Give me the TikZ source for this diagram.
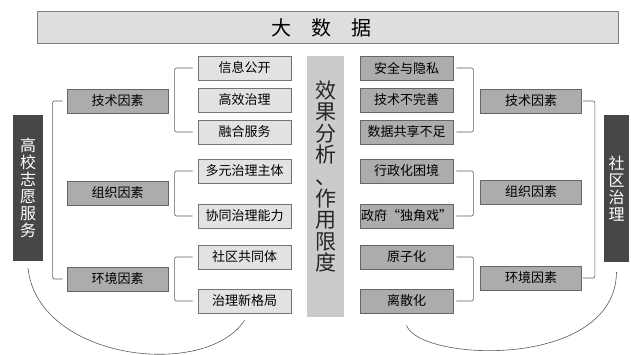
\documentclass[tikz,border=0pt]{standalone}
\usepackage{fontspec}
\setmainfont{Noto Sans CJK SC}
\usetikzlibrary{positioning}

\definecolor{lightbox}{HTML}{E2E2E2}
\definecolor{midbox}{HTML}{ACACAC}
\definecolor{darkbox}{HTML}{474747}
\definecolor{centrebox}{HTML}{CBCBCB}
\definecolor{linegrey}{HTML}{5A5A5A}
\newcommand\tightlines{\lineskiplimit=-100pt\relax}

\begin{document}
\begin{tikzpicture}[x=1pt,y=-1pt,
    small/.style={shape=rectangle,draw=black!55,fill=lightbox,line width=0.8pt,minimum width=93pt,minimum height=24pt,inner sep=0pt,font=\fontsize{13}{15}\selectfont},
    smalldark/.style={small,fill=midbox,draw=black!60},
    factor/.style={smalldark,minimum width=101pt},
    side/.style={shape=rectangle,fill=darkbox,text=white,inner sep=0pt,align=center,font=\fontsize{16}{17}\selectfont\tightlines},
    brace/.style={draw=linegrey,line width=0.6pt,rounded corners=2pt}]

   \useasboundingbox (0,0) rectangle (631,355);

   \node[shape=rectangle,draw=black!50,fill=black!13,line width=1pt,minimum width=581pt,minimum height=32pt] (top) at (327.5,28) {};
   \node[font=\fontsize{20}{22}\selectfont] (toptext) at ([xshift=-6pt]top.center) {大\quad 数\quad 据};

   \node[shape=rectangle,fill=centrebox,minimum width=37pt,minimum height=261pt,inner sep=0pt] (mid) at (325.5,186.5) {};
   \node[align=center,font=\fontsize{21}{21.6}\selectfont\tightlines,text=black!85] (midtext) at ([yshift=10pt]mid.center) {效\\果\\分\\析\\、\\作\\用\\限\\度};

   \node[side,minimum width=30pt,minimum height=146pt] (left) at (28,188) {高\\校\\志\\愿\\服\\务};
   \node[side,minimum width=25pt,minimum height=147pt] (right) at (616.5,188.5) {社\\区\\治\\理};

   \node[factor] (lm1) at (117.5,101) {技术因素};
   \node[factor] (lm2) at (117.5,193) {组织因素};
   \node[factor] (lm3) at (117.5,279) {环境因素};

   \node[small] (l1) at (244.5,68) {信息公开};
   \node[small] (l2) at (244.5,100) {高效治理};
   \node[small] (l3) at (244.5,132) {融合服务};
   \node[small] (l4) at (244.5,171) {多元治理主体};
   \node[small] (l5) at (244.5,216) {协同治理能力};
   \node[small] (l6) at (244.5,257) {社区共同体};
   \node[small] (l7) at (244.5,301) {治理新格局};

   \node[smalldark] (r1) at (406.5,68) {安全与隐私};
   \node[smalldark] (r2) at (406.5,100) {技术不完善};
   \node[smalldark] (r3) at (406.5,132) {数据共享不足};
   \node[smalldark] (r4) at (406.5,171) {行政化困境};
   \node[smalldark] (r5) at (406.5,216) {政府“独角戏”};
   \node[smalldark] (r6) at (406.5,257) {原子化};
   \node[smalldark] (r7) at (406.5,301) {离散化};

   \node[factor] (rm1) at (531,101) {技术因素};
   \node[factor] (rm2) at (531,192) {组织因素};
   \node[factor] (rm3) at (531,278) {环境因素};

    \draw[brace] ([xshift=-4pt]lm1.west) -- ++(-10,0) |- ([xshift=-4pt]lm3.west);
    \draw[brace] ([xshift=-5pt]l1.west) -- ++(-18,0) |- ([xshift=-5pt]l3.west);
    \draw[brace] ([xshift=-5pt]l4.west) -- ++(-18,0) |- ([xshift=-5pt]l5.west);
    \draw[brace] ([xshift=-5pt]l6.west) -- ++(-18,0) |- ([xshift=-5pt]l7.west);

    \draw[brace] ([xshift=3pt]r1.east) -- ++(17,0) |- ([xshift=3pt]r3.east);
    \draw[brace] ([xshift=3pt]r4.east) -- ++(17,0) |- ([xshift=3pt]r5.east);
    \draw[brace] ([xshift=3pt]r6.east) -- ++(17,0) |- ([xshift=3pt]r7.east);
    \draw[brace] ([xshift=1pt]rm1.east) -- ++(12,0) |- ([xshift=1pt]rm3.east);

    \draw[draw=linegrey,line width=0.6pt] ([yshift=-7pt]left.south) .. controls (38,360) and (205,380) .. ([yshift=-7pt]l7.south);
    \draw[draw=linegrey,line width=0.6pt] ([yshift=-12pt]r7.south) .. controls (420,362) and (615,370) .. ([yshift=-10pt]right.south);

\end{tikzpicture}
\end{document}
